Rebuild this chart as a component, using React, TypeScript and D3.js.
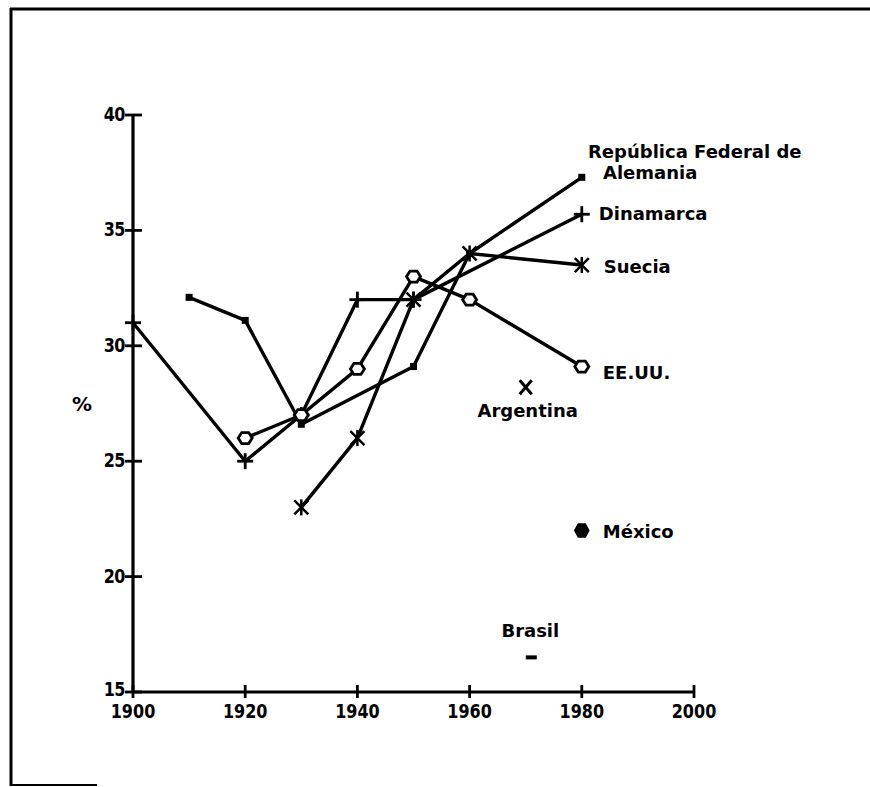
import React from "react";
import * as d3 from "d3";

const xTicks = [1900, 1920, 1940, 1960, 1980, 2000];
const yTicks = [15, 20, 25, 30, 35, 40];

const dinamarcaYears = [1900, 1920, 1930, 1940, 1950, 1980];
const dinamarcaValues = [31, 25, 27, 32, 32, 35.7];

const alemaniaYears = [1910, 1920, 1930, 1950, 1960, 1980];
const alemaniaValues = [32.1, 31.1, 26.6, 29.1, 34, 37.3];

const sueciaYears = [1930, 1940, 1950, 1960, 1980];
const sueciaValues = [23, 26, 32, 34, 33.5];

const eeuuYears = [1920, 1930, 1940, 1950, 1960, 1980];
const eeuuValues = [26, 27, 29, 33, 32, 29.1];

const argentinaPoint = { year: 1970, value: 28.2 };
const mexicoPoint = { year: 1980, value: 22 };
const brasilPoint = { year: 1971, value: 16.5 };

const W = 870;
const H = 787;
const x = d3.scaleLinear().domain([1900, 2000]).range([133, 694]);
const y = d3.scaleLinear().domain([15, 40]).range([692, 115]);

const LABEL_FONT = "'DejaVu Sans', sans-serif";
const TICK_FONT = "'DejaVu Sans', sans-serif";

function zip(years: number[], values: number[]) {
  return years.map((yr, i) => [yr, values[i]] as [number, number]);
}

const line = d3
  .line<[number, number]>()
  .x((d) => x(d[0]))
  .y((d) => y(d[1]));

function hexPath(cx: number, cy: number, rx: number, ry: number) {
  const pts: [number, number][] = [
    [cx - rx, cy],
    [cx - rx / 2, cy - ry],
    [cx + rx / 2, cy - ry],
    [cx + rx, cy],
    [cx + rx / 2, cy + ry],
    [cx - rx / 2, cy + ry],
  ];
  return "M" + pts.map((p) => p.join(",")).join("L") + "Z";
}

export default function App() {
  const din = zip(dinamarcaYears, dinamarcaValues);
  const ale = zip(alemaniaYears, alemaniaValues);
  const sue = zip(sueciaYears, sueciaValues);
  const eeu = zip(eeuuYears, eeuuValues);

  const lineStyle = { fill: "none", stroke: "#000", strokeWidth: 3.4, strokeLinejoin: "round" as const };

  return (
    <svg
      width={W}
      height={H}
      style={{ position: "absolute", left: 0, top: 0, background: "#fff" }}
    >
      <rect x={0} y={0} width={W} height={H} fill="#fff" />
      {/* frame */}
      <line x1={10} y1={9} x2={870} y2={9} stroke="#000" strokeWidth={3} />
      <line x1={11} y1={8} x2={11} y2={786} stroke="#000" strokeWidth={3} />
      <line x1={10} y1={785} x2={97} y2={785} stroke="#000" strokeWidth={2} />

      {/* axes */}
      <line x1={x(1900)} y1={y(15)} x2={x(1900)} y2={y(40)} stroke="#000" strokeWidth={3.2} />
      <line x1={x(1900)} y1={y(15)} x2={x(2000)} y2={y(15)} stroke="#000" strokeWidth={3.2} />
      {yTicks.map((t) => (
        <g key={"yt" + t}>
          <line x1={x(1900) - 8} x2={x(1900) + 9} y1={y(t)} y2={y(t)} stroke="#000" strokeWidth={2.8} />
          <text
            transform={`translate(${x(1900) - 8},${y(t) + (t === 15 ? 4 : 6)}) scale(1,1.25)`}
            textAnchor="end"
            fontFamily={TICK_FONT}
            fontWeight="bold"
            fontSize={16}
            letterSpacing={-0.5}
          >
            {t}
          </text>
        </g>
      ))}
      {xTicks.map((t) => (
        <g key={"xt" + t}>
          <line x1={x(t)} x2={x(t)} y1={y(15) - 7} y2={y(15) + 6} stroke="#000" strokeWidth={2.8} />
          <text
            transform={`translate(${x(t)},${y(15) + 26}) scale(1,1.25)`}
            textAnchor="middle"
            fontFamily={TICK_FONT}
            fontWeight="bold"
            fontSize={16}
          >
            {t}
          </text>
        </g>
      ))}
      <text x={82} y={411} textAnchor="middle" fontFamily={LABEL_FONT} fontWeight="bold" fontSize={20}>
        %
      </text>

      {/* lines */}
      <path d={line(ale) || ""} style={lineStyle} />
      <path d={line(din) || ""} style={lineStyle} />
      <path d={line(sue) || ""} style={lineStyle} />
      <path d={line(eeu) || ""} style={lineStyle} />

      {/* Alemania markers: filled squares */}
      {ale.map((d, i) => (
        <rect key={"a" + i} x={x(d[0]) - 3.5} y={y(d[1]) - 3.5} width={7} height={7} fill="#000" />
      ))}
      {/* Dinamarca markers: plus */}
      {din.map((d, i) => {
        const cx = x(d[0]);
        const cy = y(d[1]);
        return (
          <g key={"d" + i} stroke="#000" strokeWidth={2.8}>
            <line x1={cx - 8} x2={cx + 8} y1={cy} y2={cy} />
            <line x1={cx} x2={cx} y1={cy - 8} y2={cy + 8} />
          </g>
        );
      })}
      {/* Suecia markers: asterisk */}
      {sue.map((d, i) => {
        const cx = x(d[0]);
        const cy = y(d[1]);
        return (
          <g key={"s" + i} stroke="#000" strokeWidth={2.5}>
            <line x1={cx - 7} x2={cx + 7} y1={cy - 7} y2={cy + 7} />
            <line x1={cx - 7} x2={cx + 7} y1={cy + 7} y2={cy - 7} />
            <line x1={cx} x2={cx} y1={cy - 8} y2={cy + 8} />
          </g>
        );
      })}
      {/* EE.UU. markers: open hexagon */}
      {eeu.map((d, i) => (
        <path
          key={"e" + i}
          d={hexPath(x(d[0]), y(d[1]), 7, 5.5)}
          fill="#fff"
          stroke="#000"
          strokeWidth={2.8}
        />
      ))}

      {/* Argentina */}
      <g stroke="#000" strokeWidth={3}>
        <line
          x1={x(argentinaPoint.year) - 6}
          x2={x(argentinaPoint.year) + 6}
          y1={y(argentinaPoint.value) - 7}
          y2={y(argentinaPoint.value) + 7}
        />
        <line
          x1={x(argentinaPoint.year) - 6}
          x2={x(argentinaPoint.year) + 6}
          y1={y(argentinaPoint.value) + 7}
          y2={y(argentinaPoint.value) - 7}
        />
      </g>
      {/* México */}
      <path d={hexPath(x(mexicoPoint.year), y(mexicoPoint.value), 7, 6.5)} fill="#000" stroke="#000" strokeWidth={1.5} />
      {/* Brasil */}
      <rect x={x(brasilPoint.year) - 5.5} y={y(brasilPoint.value) - 2} width={11} height={4} fill="#000" />

      {/* labels */}
      <g fontFamily={LABEL_FONT} fontWeight="bold" fontSize={18} fill="#000">
        <text x={588} y={158}>República Federal de</text>
        <text x={603} y={179}>Alemania</text>
        <text x={x(1980) + 17} y={y(35.7) + 6}>Dinamarca</text>
        <text x={x(1980) + 22} y={y(33.5) + 8}>Suecia</text>
        <text x={x(1980) + 21} y={y(29.1) + 12}>EE.UU.</text>
        <text x={x(argentinaPoint.year) + 2} y={y(argentinaPoint.value) + 30} textAnchor="middle">
          Argentina
        </text>
        <text x={x(mexicoPoint.year) + 21} y={y(mexicoPoint.value) + 8}>México</text>
        <text x={x(brasilPoint.year) - 1} y={y(brasilPoint.value) - 20} textAnchor="middle">
          Brasil
        </text>
      </g>
    </svg>
  );
}
